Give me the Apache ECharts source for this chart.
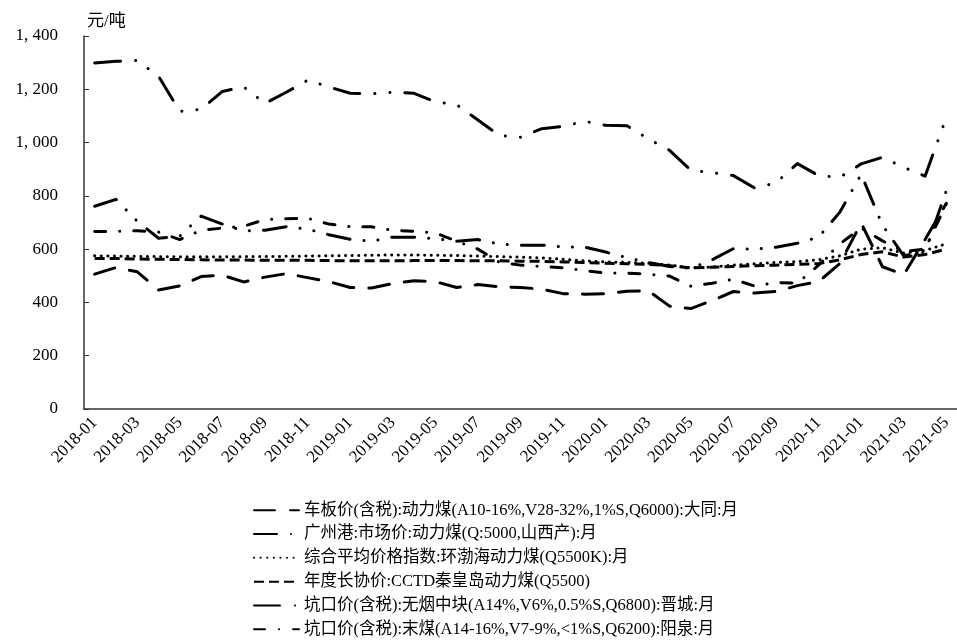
<!DOCTYPE html>
<html><head><meta charset="utf-8">
<script src="https://cdn.jsdelivr.net/npm/echarts@6/dist/echarts.min.js"></script>
<style>html,body{margin:0;padding:0;background:#fff}#c{width:957px;height:642px}</style>
</head><body><div id="c"></div>
<script>
// categories
const months = [];
for (let y = 2018; y <= 2021; y++) for (let m = 1; m <= 12; m++) { if (y === 2021 && m > 5) break; months.push(y + '-' + String(m).padStart(2, '0')); }

const seriesNames = [
  '车板价(含税):动力煤(A10-16%,V28-32%,1%S,Q6000):大同:月',
  '广州港:市场价:动力煤(Q:5000,山西产):月',
  '综合平均价格指数:环渤海动力煤(Q5500K):月',
  '年度长协价:CCTD秦皇岛动力煤(Q5500)',
  '坑口价(含税):无烟中块(A14%,V6%,0.5%S,Q6800):晋城:月',
  '坑口价(含税):末煤(A14-16%,V7-9%,<1%S,Q6200):阳泉:月'
];

const datong = [506,531,515,447,462,497,502,477,495,508,493,478,456,454,471,481,478,456,467,459,456,450,433,431,433,442,444,386,377,407,441,435,441,463,478,546,698,534,504,636,772];
const guangzhou = [761,787,705,641,649,724,694,668,671,684,675,654,637,630,645,645,639,630,636,619,615,615,608,608,589,568,550,535,528,560,602,600,607,622,645,739,881,690,575,590,820];
const bspi = [575,574,573,572,571,571,571,572,572,573,574,575,576,577,578,578,577,576,574,572,570,567,562,556,552,550,547,540,530,533,540,545,550,553,560,575,600,605,585,595,620];
const cctd = [565,565,563,562,561,560,559,559,558,558,558,557,556,556,556,557,557,557,556,556,555,554,552,550,547,545,543,538,530,532,535,538,540,543,546,560,580,590,570,580,600];
const jincheng = [1299,1305,1308,1249,1117,1125,1192,1209,1147,1189,1234,1209,1185,1183,1189,1185,1153,1142,1085,1027,1020,1052,1061,1080,1065,1063,1014,971,896,887,876,829,849,921,876,870,920,945,907,874,1095];
const yangquan = [666,667,669,664,636,671,679,686,711,714,716,694,684,684,671,667,661,630,600,551,540,535,530,520,510,510,506,499,461,472,487,461,475,472,540,620,679,631,591,600,770];

const yTicks = [0, 200, 400, 600, 800, 1000, 1200, 1400];

const FONT = "'Liberation Serif','Noto Sans CJK SC',serif";
const chart = echarts.init(document.getElementById('c'));

function mk(name, data, dash, cap) {
  return {
    name: name, type: 'line', data: data, symbol: 'none', smooth: false,
    lineStyle: { color: '#000', width: 3, type: dash, cap: cap || 'round', join: 'round' },
    itemStyle: { color: '#000' }
  };
}

chart.setOption({
  animation: false,
  textStyle: { fontFamily: FONT, color: '#000' },
  grid: { left: 84, top: 36, width: 880, height: 373 },
  xAxis: {
    type: 'category', data: months, boundaryGap: true,
    axisLine: { lineStyle: { color: '#333', width: 1.5 } },
    axisTick: { inside: true, interval: 1, length: 5, lineStyle: { color: '#333' } },
    axisLabel: { interval: 1, rotate: 45, fontSize: 17, color: '#000', margin: 11, fontFamily: FONT }
  },
  yAxis: {
    type: 'value', min: yTicks[0], max: yTicks[yTicks.length - 1], interval: 200,
    name: '元/吨', nameLocation: 'end', nameGap: 6,
    nameTextStyle: { align: 'left', fontSize: 17, color: '#000', fontFamily: FONT, padding: [0, 0, 0, 3] },
    axisLine: { show: true, lineStyle: { color: '#333', width: 1.5 } },
    axisTick: { show: true, inside: true, length: 5, lineStyle: { color: '#333' } },
    splitLine: { show: false },
    axisLabel: {
      fontSize: 17, color: '#000', margin: 26, fontFamily: FONT,
      formatter: function (v) { return v >= 1000 ? Math.floor(v / 1000) + ', ' + String(v % 1000).padStart(3, '0') : String(v); }
    }
  },
  legend: {
    orient: 'vertical', left: 253, top: 502, padding: 0, height: 200,
    itemWidth: 45, itemHeight: 16, itemGap: 7.3,
    itemStyle: { opacity: 0 },
    textStyle: { fontSize: 16.5, color: '#000', fontFamily: FONT },
    data: seriesNames
  },
  series: [
    mk(seriesNames[0], datong, [21, 15]),
    mk(seriesNames[1], guangzhou, [23, 14, 0.1, 14, 0.1, 14]),
    mk(seriesNames[2], bspi, [0.1, 6.5]),
    mk(seriesNames[3], cctd, [10, 5], 'butt'),
    mk(seriesNames[4], jincheng, [26, 15, 0.1, 15, 0.1, 15]),
    mk(seriesNames[5], yangquan, [11, 14, 0.1, 14])
  ]
});
</script></body></html>
